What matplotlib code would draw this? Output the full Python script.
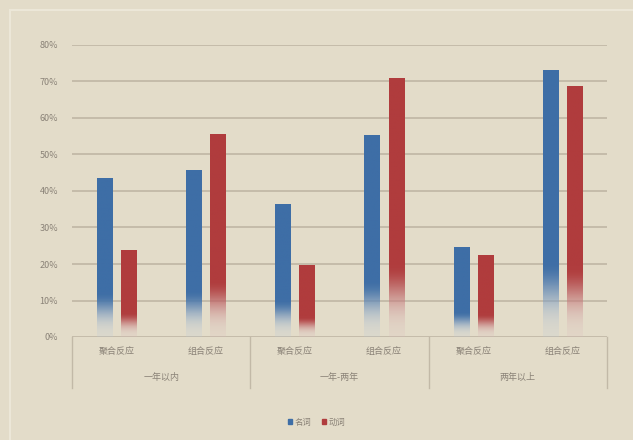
import numpy as np
import matplotlib
matplotlib.use("Agg")
import matplotlib.pyplot as plt
from matplotlib.colors import to_rgb
from matplotlib.patches import Rectangle

plt.rcParams['font.family'] = ['Noto Sans CJK SC', 'DejaVu Sans']

groups = ['一年以内', '一年-两年', '两年以上']
responses = ['聚合反应', '组合反应']
series = ['名词', '动词']
noun = [43.3, 45.5, 36.4, 55.3, 24.4, 72.9]
verb = [23.8, 55.6, 19.7, 70.7, 22.2, 68.5]
yticks = [0, 10, 20, 30, 40, 50, 60, 70, 80]

bg = '#e3dcc9'
grid_c = '#c2b9a7'
text_c = '#8a8277'
colors = ['#3e6ea6', '#b03c3d']

fig = plt.figure(figsize=(6.33, 4.4), dpi=100, facecolor=bg)
ax = fig.add_axes([72/633, 1 - 337/440, 535/633, 292/440], facecolor=bg)

# faint frame
fig.patches.append(Rectangle((10/633, -0.1), 1.2, 1.1 - 10/440, transform=fig.transFigure,
                             fill=False, edgecolor='#ece7d8', lw=1.5, zorder=0))

x = np.arange(len(noun))
w = 0.17
off = 0.135
bars = [ax.bar(x - off, noun, w, label=series[0], color=colors[0]),
        ax.bar(x + off, verb, w, label=series[1], color=colors[1])]


def gradient(patch, color):
    x0, y0 = patch.get_x(), patch.get_y()
    pw, ph = patch.get_width(), patch.get_height()
    n = 200
    t = np.linspace(0, 1, n)  # 0 bottom -> 1 top
    s = np.clip(t / 0.28, 0, 1)
    fade = s * s * (3 - 2 * s)
    rgb = np.array(to_rgb(color))
    white = np.array([0.93, 0.94, 0.95])
    img = np.zeros((n, 1, 4))
    mix = 0.3 + 0.7 * fade
    img[:, 0, :3] = rgb * mix[:, None] + white * (1 - mix[:, None])
    img[:, 0, 3] = 0.2 + 0.8 * fade
    ax.imshow(img, extent=(x0, x0 + pw, y0, y0 + ph), origin='lower',
              aspect='auto', zorder=3, interpolation='bilinear')
    patch.set_visible(False)


for bc, c in zip(bars, colors):
    for p in bc:
        gradient(p, c)

ax.set_xlim(-0.5, len(noun) - 0.5)
ax.set_ylim(0, 80)
ax.set_yticks(yticks)
ax.set_yticklabels([f'{v}%' for v in yticks], fontsize=6.5, color=text_c)
ax.tick_params(axis='y', length=0, pad=10)
ax.set_xticks([])
for v in yticks:
    ax.axhline(v, color=grid_c, lw=1.3, zorder=1)
for s in ax.spines.values():
    s.set_visible(False)

# category labels
for i in range(len(noun)):
    ax.text(i, -0.05, responses[i % 2], transform=ax.get_xaxis_transform(),
            ha='center', va='center', fontsize=6.5, color=text_c)
for j, g in enumerate(groups):
    ax.text(2 * j + 0.5, -0.137, g, transform=ax.get_xaxis_transform(),
            ha='center', va='center', fontsize=6.5, color=text_c)
for k in range(len(groups) + 1):
    ax.plot([2 * k - 0.5] * 2, [0, -0.175], transform=ax.get_xaxis_transform(),
            color=grid_c, lw=1, clip_on=False)

ax.legend(loc='center', bbox_to_anchor=(0.5, 18/440), bbox_transform=fig.transFigure,
          ncol=2, frameon=False, fontsize=6, handlelength=0.5, handleheight=0.5,
          handletextpad=0.3, columnspacing=1.2, labelcolor=text_c)
leg = ax.get_legend()
for h, c in zip(leg.legend_handles, colors):
    h.set_visible(True)
    h.set_color(c)

fig.savefig('out.png', dpi=100, facecolor=bg)
